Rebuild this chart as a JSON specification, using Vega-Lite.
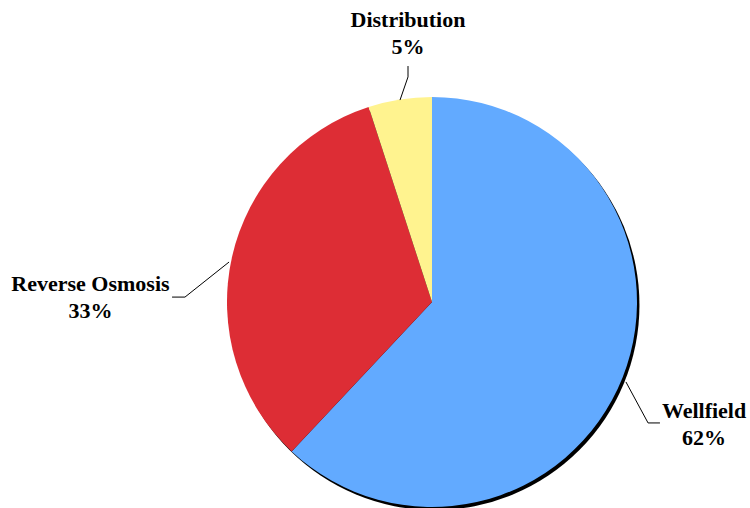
{
  "$schema": "https://vega.github.io/schema/vega-lite/v6.json",
  "width": 410,
  "height": 410,
  "autosize": {"type": "none"},
  "padding": {"left": 227, "top": 97, "right": 113, "bottom": 1},
  "background": "white",
  "config": {"view": {"stroke": null}},
  "datasets": {
    "slices": [
      {"name": "Wellfield", "pct": 62},
      {"name": "Reverse Osmosis", "pct": 33},
      {"name": "Distribution", "pct": 5}
    ],
    "leaders": [
      {"name": "Distribution", "seq": 1, "x": -0.156, "y": 0.985},
      {"name": "Distribution", "seq": 2, "x": -0.117, "y": 1.098},
      {"name": "Distribution", "seq": 3, "x": -0.117, "y": 1.151},
      {"name": "Reverse Osmosis", "seq": 1, "x": -0.99, "y": 0.195},
      {"name": "Reverse Osmosis", "seq": 2, "x": -1.205, "y": 0.024},
      {"name": "Reverse Osmosis", "seq": 3, "x": -1.268, "y": 0.024},
      {"name": "Wellfield", "seq": 1, "x": 0.946, "y": -0.39},
      {"name": "Wellfield", "seq": 2, "x": 1.054, "y": -0.59},
      {"name": "Wellfield", "seq": 3, "x": 1.112, "y": -0.59}
    ],
    "labels": [
      {"label": "Distribution\n5%", "x": -0.117, "y": 1.376},
      {"label": "Reverse Osmosis\n33%", "x": -1.666, "y": 0.088},
      {"label": "Wellfield\n62%", "x": 1.327, "y": -0.532}
    ]
  },
  "layer": [
    {
      "data": {"values": [{"cx": 0.012, "cy": -0.015}]},
      "mark": {"type": "point", "shape": "circle", "filled": true, "color": "black", "opacity": 1, "size": 168100, "strokeWidth": 0},
      "encoding": {
        "x": {"field": "cx", "type": "quantitative", "scale": {"domain": [-1, 1], "nice": false, "zero": false}, "axis": null},
        "y": {"field": "cy", "type": "quantitative", "scale": {"domain": [-1, 1], "nice": false, "zero": false}, "axis": null}
      }
    },
    {
      "data": {"name": "slices"},
      "mark": {"type": "arc", "outerRadius": 205},
      "encoding": {
        "theta": {"field": "pct", "type": "quantitative", "stack": true},
        "order": {"field": "pct", "sort": "descending"},
        "color": {
          "field": "name",
          "type": "nominal",
          "scale": {"domain": ["Wellfield", "Reverse Osmosis", "Distribution"], "range": ["#62AAFF", "#DD2D35", "#FFF38F"]},
          "legend": null
        }
      }
    },
    {
      "data": {"name": "leaders"},
      "mark": {"type": "line", "color": "black", "strokeWidth": 1},
      "encoding": {
        "x": {"field": "x", "type": "quantitative"},
        "y": {"field": "y", "type": "quantitative"},
        "detail": {"field": "name"},
        "order": {"field": "seq"}
      }
    },
    {
      "data": {"name": "labels"},
      "mark": {"type": "text", "font": "Liberation Serif", "fontWeight": "bold", "fontSize": 22, "lineBreak": "\n", "lineHeight": 27, "color": "black", "align": "center", "baseline": "middle"},
      "encoding": {
        "x": {"field": "x", "type": "quantitative"},
        "y": {"field": "y", "type": "quantitative"},
        "text": {"field": "label"}
      }
    }
  ]
}
